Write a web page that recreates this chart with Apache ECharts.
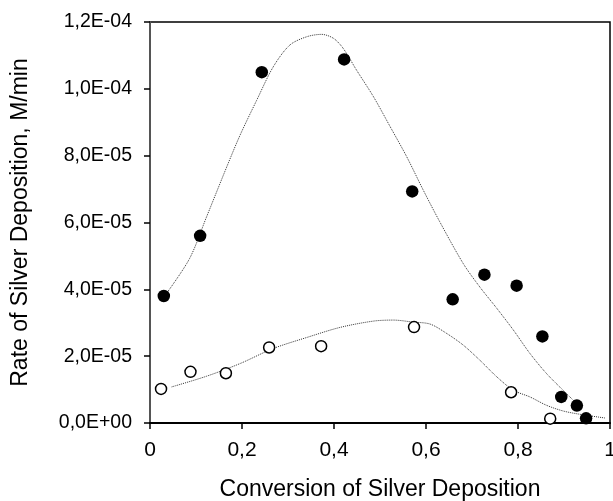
<!DOCTYPE html>
<html>
<head>
<meta charset="utf-8">
<script src="https://cdn.jsdelivr.net/npm/echarts@6/dist/echarts.min.js"></script>
<style>
    html, body { margin: 0; padding: 0; background: #fff; }
    #chart { width: 613px; height: 501px; }
</style>
</head>
<body>
<div id="chart"></div>
<script>
// 实心点 (filled)
var filledX = [0.030, 0.109, 0.243, 0.422, 0.570, 0.658, 0.727, 0.797, 0.853, 0.894, 0.928, 0.948];
var filledY = [3.80e-5, 5.60e-5, 1.050e-4, 1.088e-4, 6.93e-5, 3.70e-5, 4.44e-5, 4.11e-5, 2.59e-5, 7.8e-6, 5.2e-6, 1.4e-6];
// 空心点 (open)
var openX = [0.024, 0.088, 0.165, 0.259, 0.372, 0.574, 0.785, 0.870];
var openY = [1.02e-5, 1.53e-5, 1.49e-5, 2.26e-5, 2.30e-5, 2.87e-5, 9.2e-6, 1.3e-6];
// 拟合曲线 (upper)
var fitUpX = [0.035, 0.086, 0.123, 0.167, 0.196, 0.232, 0.268, 0.304, 0.341, 0.373, 0.399, 0.420, 0.449, 0.486, 0.522, 0.558, 0.594, 0.630, 0.681, 0.717, 0.754, 0.790, 0.826, 0.862, 0.898, 0.935];
var fitUpY = [3.86e-5, 4.92e-5, 6.17e-5, 7.67e-5, 8.62e-5, 9.66e-5, 1.066e-4, 1.131e-4, 1.156e-4, 1.163e-4, 1.151e-4, 1.121e-4, 1.056e-4, 9.76e-5, 8.87e-5, 7.97e-5, 6.97e-5, 6.02e-5, 4.77e-5, 4.07e-5, 3.43e-5, 2.78e-5, 2.08e-5, 1.48e-5, 9.8e-6, 4.8e-6];
// 拟合曲线 (lower)
var fitLowX = [0.047, 0.123, 0.196, 0.268, 0.341, 0.413, 0.486, 0.529, 0.572, 0.609, 0.645, 0.681, 0.717, 0.754, 0.790, 0.826, 0.862, 0.898, 0.935, 0.989];
var fitLowY = [1.08e-5, 1.40e-5, 1.78e-5, 2.23e-5, 2.56e-5, 2.86e-5, 3.05e-5, 3.08e-5, 3.02e-5, 2.96e-5, 2.68e-5, 2.33e-5, 1.88e-5, 1.38e-5, 9.8e-6, 7.8e-6, 5.3e-6, 3.6e-6, 2.6e-6, 1.5e-6];

function pairs(xs, ys) {
    var out = [];
    for (var i = 0; i < xs.length; i++) {
        out.push([xs[i], ys[i]]);
    }
    return out;
}

var myChart = echarts.init(document.getElementById('chart'));
var font = 'Liberation Sans, Arial, sans-serif';

var option = {
    animation: false,
    grid: {
        left: 150, right: 3, top: 22, bottom: 78,
        outerBoundsMode: 'none',
        containLabel: false,
        show: true, borderColor: '#000', borderWidth: 1.5, backgroundColor: 'transparent'
    },
    xAxis: {
        type: 'value',
        min: 0, max: 1, interval: 0.2,
        name: 'Conversion of Silver Deposition',
        nameLocation: 'middle',
        nameGap: 55,
        nameTextStyle: { fontFamily: font, fontSize: 23, color: '#000' },
        axisLine: { show: true, lineStyle: { color: '#000', width: 2 } },
        axisTick: { show: true, inside: false, length: 6, lineStyle: { color: '#000', width: 1.5 } },
        axisLabel: {
            fontFamily: font, fontSize: 21, color: '#000', margin: 17,
            formatter: function (v) {
                return String(parseFloat(v.toFixed(1))).replace('.', ',');
            }
        },
        splitLine: { show: false }
    },
    yAxis: {
        type: 'value',
        min: 0, max: 1.2e-4, interval: 2e-5,
        name: 'Rate of Silver Deposition, M/min',
        nameLocation: 'middle',
        nameGap: 118,
        nameTextStyle: { fontFamily: font, fontSize: 23, color: '#000' },
        axisLine: { show: true, lineStyle: { color: '#555', width: 2 } },
        axisTick: { show: true, inside: false, length: 6, lineStyle: { color: '#000', width: 1.5 } },
        axisLabel: {
            fontFamily: font, fontSize: 19.5, color: '#000', margin: 18,
            formatter: function (v) {
                var s = Number(v).toExponential(1); // e.g. 1.2e-4
                var parts = s.split('e');
                var exp = parseInt(parts[1], 10);
                var sign = exp < 0 ? '-' : '+';
                var e = Math.abs(exp);
                return parts[0].replace('.', ',') + 'E' + sign + (e < 10 ? '0' + e : e);
            }
        },
        splitLine: { show: false }
    },
    series: [
        {
            name: 'fitUp',
            type: 'line',
            smooth: 0.3,
            symbol: 'none',
            lineStyle: { color: '#333', width: 1, type: 'dotted' },
            data: pairs(fitUpX, fitUpY),
            z: 1
        },
        {
            name: 'fitLow',
            type: 'line',
            smooth: 0.3,
            symbol: 'none',
            lineStyle: { color: '#333', width: 1, type: 'dotted' },
            data: pairs(fitLowX, fitLowY),
            z: 1
        },
        {
            name: 'filled',
            type: 'scatter',
            symbol: 'circle',
            symbolSize: 12.5,
            itemStyle: { color: '#000', opacity: 1 },
            data: pairs(filledX, filledY),
            z: 3
        },
        {
            name: 'open',
            type: 'scatter',
            symbol: 'circle',
            symbolSize: 11,
            itemStyle: { color: '#fff', borderColor: '#000', borderWidth: 1.5, opacity: 1 },
            data: pairs(openX, openY),
            z: 3
        }
    ]
};

myChart.setOption(option);
</script>
</body>
</html>
